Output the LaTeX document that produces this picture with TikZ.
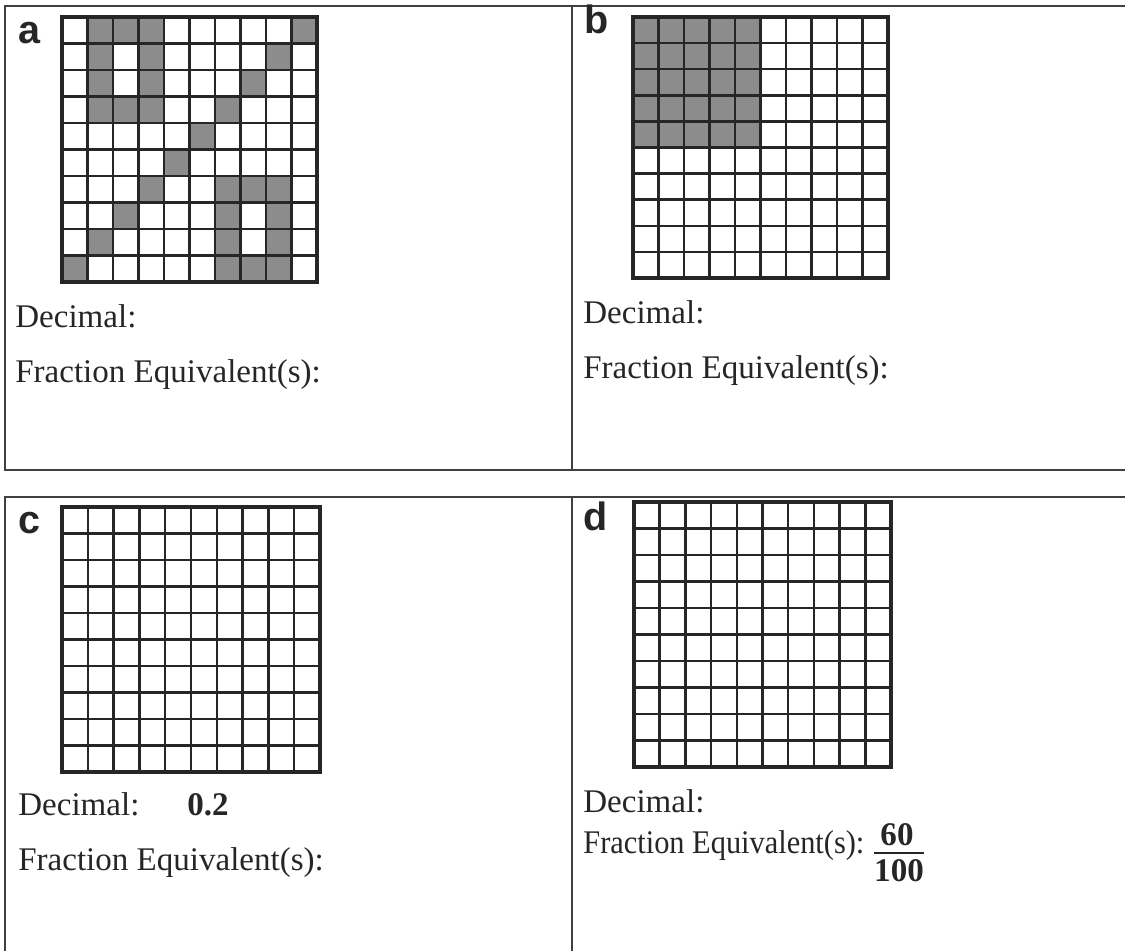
\documentclass[tikz,border=0pt]{standalone}
\usepackage{fontspec}
\setmainfont{Liberation Serif}
\setsansfont{Liberation Sans}
\usetikzlibrary{positioning}

\newcommand{\bodyfont}{\fontsize{18.8}{22}\selectfont\color{black!85}}
\newcommand{\tagfont}{\fontsize{22.5}{26}\selectfont\sffamily\bfseries\color{black!85}}

% 10x10 hundred grid in unit cells
\newcommand{\hundredgrid}{%
  \foreach \k in {1,...,9} {
    \draw[gridline] (\k,0) -- (\k,10);
    \draw[gridline] (0,\k) -- (10,\k);
  }
  \draw[gridframe] (0,0) rectangle (10,10);
}

\begin{document}
\begin{tikzpicture}[
    x=0.02cm, y=-0.02cm,
    panel/.style={draw=black!75, line width=1pt},
    cellfill/.style={fill=black!45},
    gridline/.style={draw=black!85, line width=1.4pt},
    gridframe/.style={draw=black!85, line width=2.6pt},
    tag/.style={font=\tagfont, inner sep=0pt, anchor=base west},
    txt/.style={font=\bodyfont, inner sep=0pt, anchor=base west},
]
\useasboundingbox (0,0) rectangle (1125,951);

% panel frames
\draw[panel] (1125,6) -- (5,6) -- (5,470) -- (1125,470);
\draw[panel] (572,6) -- (572,470);
\draw[panel] (1125,497) -- (5,497) -- (5,951);
\draw[panel] (572,497) -- (572,951);

% a
\node[tag] (taga) at (18,43) {a};
\begin{scope}[shift={(62,17)}, xscale=25.5, yscale=26.5]
  \foreach \r/\c in {0/1,0/2,0/3,0/9,1/1,1/3,1/8,2/1,2/3,2/7,3/1,3/2,3/3,3/6,
                     4/5,5/4,6/3,6/6,6/7,6/8,7/2,7/6,7/8,8/1,8/6,8/8,9/0,9/6,9/7,9/8}
    \fill[cellfill] (\c,\r) rectangle ++(1,1);
  \hundredgrid
\end{scope}
\node[txt] (deca) at (15,327) {Decimal:};
\node[txt] (fraca) at (15,382) {Fraction Equivalent(s):};

% b
\node[tag] (tagb) at (584,33) {b};
\begin{scope}[shift={(633,17)}, xscale=25.5, yscale=26.1]
  \fill[cellfill] (0,0) rectangle (5,5);
  \hundredgrid
\end{scope}
\node[txt] (decb) at (583,323) {Decimal:};
\node[txt] (fracb) at (583,378) {Fraction Equivalent(s):};

% c
\node[tag] (tagc) at (18,533) {c};
\begin{scope}[shift={(62,507)}, xscale=25.8, yscale=26.5]
  \hundredgrid
\end{scope}
\node[txt] (decc) at (18,815) {Decimal:};
\node[txt, font=\bodyfont\bfseries] (valc) at (187,815) {0.2};
\node[txt] (fracc) at (18,870) {Fraction Equivalent(s):};

% d
\node[tag] (tagd) at (583,530) {d};
\begin{scope}[shift={(634,502)}, xscale=25.7, yscale=26.5]
  \hundredgrid
\end{scope}
\node[txt] (decd) at (583,812) {Decimal:};
\node[txt, font=\bodyfont\addfontfeatures{FakeStretch=0.92}] (fracd) at (583,853) {Fraction Equivalent(s):};
\node[txt, anchor=base, font=\bodyfont\bfseries] (num) at (897,845) {60};
\node[txt, anchor=base, font=\bodyfont\bfseries] (den) at (899,881) {100};
\draw[line width=1.2pt, black!85] ([yshift=3pt]den.north west) -- ([yshift=3pt]den.north east);

\end{tikzpicture}
\end{document}
